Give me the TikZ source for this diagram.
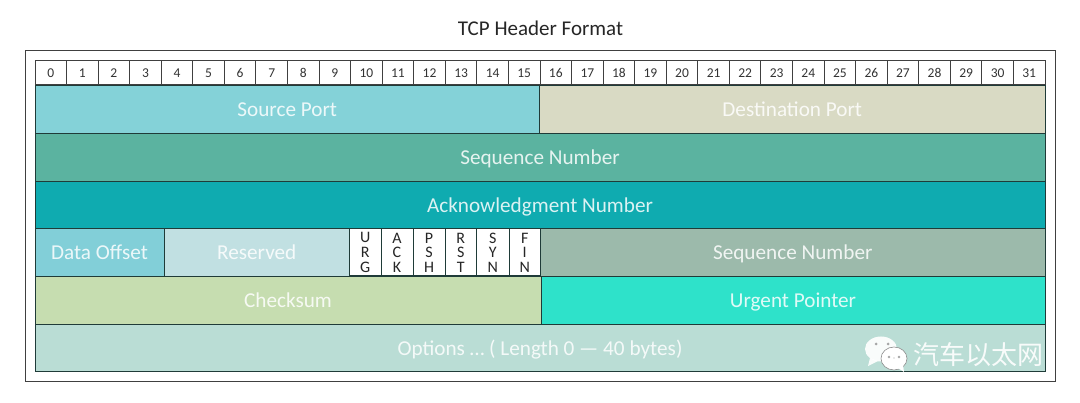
\documentclass[tikz,border=0pt]{standalone}
\usepackage{fontspec}
\setmainfont{Carlito}
\newfontfamily\cjkwm{Noto Sans CJK SC}
\definecolor{cSrc}{HTML}{84D2D8}
\definecolor{cDst}{HTML}{D9DAC4}
\definecolor{cSeq}{HTML}{5BB3A0}
\definecolor{cAck}{HTML}{0FABB0}
\definecolor{cOff}{HTML}{82CFD8}
\definecolor{cRes}{HTML}{C1E0E2}
\definecolor{cSeqB}{HTML}{9CBAAB}
\definecolor{cChk}{HTML}{C6DDB0}
\definecolor{cUrg}{HTML}{2EE2CA}
\definecolor{cOpt}{HTML}{BADDD5}
\definecolor{cLine}{HTML}{1F3B38}
\tikzset{
  x=1pt,y=-1pt,
  lab/.style={text=white,text opacity=.85,font=\fontsize{21.2}{23}\selectfont,inner sep=0pt,anchor=center,text height=15pt,text depth=0pt},
  bitcell/.style={draw=black!75,line width=1pt,fill=white,minimum width=31.56pt,minimum height=24pt,inner sep=0pt,anchor=center,text=black!80,font=\fontsize{13.5}{13.5}\selectfont},
  flagcell/.style={draw=cLine,line width=1pt,fill=white,inner sep=0pt},
  flagtext/.style={align=center,inner sep=0pt,text=black!85,font=\fontsize{16}{14.6}\selectfont,anchor=center},
  bubble/.style={fill=white,fill opacity=.92},
}
\newcommand{\fld}[7]{% name x1 y1 x2 y2 colour text
  \fill[#6] (#2,#3) rectangle (#4,#5);
  \draw[draw=cLine,line width=.9pt] (#2,#3) rectangle (#4,#5);
  \node[lab] (#1) at ({(#2+#4)/2},{(#3+#5)/2}) {#7};
}
\newcommand{\flg}[4]{% name x1 x2 text
  \draw[flagcell] (#2,228.5) rectangle (#3,276);
  \node[flagtext] (#1) at ({(#2+#3)/2},252.5) {#4};
}
\begin{document}
\begin{tikzpicture}
\useasboundingbox (0,0) rectangle (1080,403);
\fill[white] (0,0) rectangle (1080,403);
\node[inner sep=0pt,text=black!85,font=\fontsize{21}{23}\selectfont] (title) at (540.5,28) {TCP Header Format};
\draw[black!75,line width=1pt] (25,50.5) rectangle (1055,382);
% bit ruler
\foreach \i in {0,...,31}{
  \node[bitcell] (b\i) at ({35+31.5625*(\i+.5)},73) {\i};
}
\fld{src}{35}{85}{539.5}{133}{cSrc}{Source Port}
\fld{dst}{539.5}{85}{1045}{133}{cDst}{Destination Port}
\fld{seq}{35}{133}{1045}{181}{cSeq}{Sequence Number}
\fld{ack}{35}{181}{1045}{228.5}{cAck}{Acknowledgment Number}
\fld{off}{35}{228.5}{164}{276}{cOff}{Data Offset}
\fld{res}{164}{228.5}{349.5}{276}{cRes}{Reserved}
\flg{urg}{349.5}{381}{U\\R\\G}
\flg{ackf}{381}{413}{A\\C\\K}
\flg{psh}{413}{445}{P\\S\\H}
\flg{rst}{445}{476.5}{R\\S\\T}
\flg{syn}{476.5}{509}{S\\Y\\N}
\flg{fin}{509}{540.5}{F\\I\\N}
\fld{seqb}{540.5}{228.5}{1045}{276}{cSeqB}{Sequence Number}
\fld{chk}{35}{276}{541}{324}{cChk}{Checksum}
\fld{urgp}{541}{276}{1045}{324}{cUrg}{Urgent Pointer}
\fld{opt}{35}{324}{1045}{371.5}{cOpt}{Options … ( Length 0 — 40 bytes)}
% watermark
\fill[bubble] (881,349) ellipse (16 and 12.5);
\fill[bubble] (870,358) -- (868,366) -- (878,361) -- cycle;
\fill[black!35] (876,344) circle (1.5) (888,344) circle (1.5);
\fill[white] (894,358.5) ellipse (13 and 11.5);
\draw[black!45,line width=.6pt] (894,358.5) ellipse (13 and 11.5);
\fill[white] (898,368) -- (904,372) -- (903,365) -- cycle;
\fill[black!35] (889,357) circle (1.3) (894,358) circle (.7) (899,357) circle (1.3);
\node[inner sep=0pt,text=white,text opacity=.9,font=\cjkwm\fontsize{26}{28}\selectfont] (wm) at (978,355) {汽车以太网};
\end{tikzpicture}
\end{document}
